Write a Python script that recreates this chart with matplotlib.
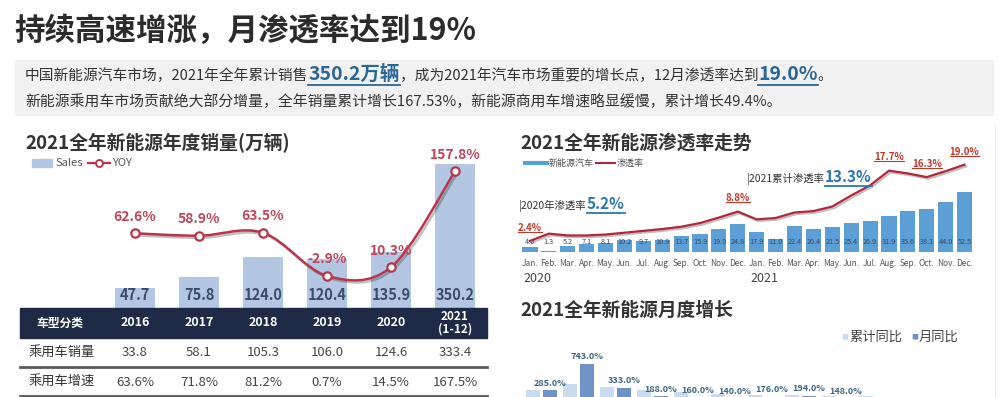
import numpy as np
import matplotlib
matplotlib.use('Agg')
import matplotlib.pyplot as plt
import matplotlib.patheffects as pe
from matplotlib.path import Path
from matplotlib.patches import PathPatch, Rectangle
from matplotlib.lines import Line2D
from matplotlib.transforms import blended_transform_factory

plt.rcParams['font.family'] = ['Noto Sans CJK SC', 'DejaVu Sans']
plt.rcParams['axes.unicode_minus'] = False

# ---- 数据 ----
years = ['2016', '2017', '2018', '2019', '2020', '2021\n(1-12)']
sales = [47.7, 75.8, 124.0, 120.4, 135.9, 350.2]
yoy = [62.6, 58.9, 63.5, -2.9, 10.3, 157.8]
pc_sales = ['33.8', '58.1', '105.3', '106.0', '124.6', '333.4']
pc_growth = ['63.6%', '71.8%', '81.2%', '0.7%', '14.5%', '167.5%']

month_names = ['Jan.', 'Feb.', 'Mar.', 'Apr.', 'May.', 'Jun.',
               'Jul.', 'Aug.', 'Sep.', 'Oct.', 'Nov.', 'Dec.'] * 2
nev_monthly = [4.6, 1.3, 5.2, 7.1, 8.1, 10.2, 9.7, 10.9, 13.7, 15.9, 19.9, 24.8,
               17.9, 11.0, 22.4, 20.4, 21.5, 25.4, 26.9, 31.9, 35.6, 38.1, 44.0, 52.5]
penetration = [2.4, 4.0, 3.6, 3.6, 3.8, 4.2, 4.6, 5.0, 5.5, 6.3, 7.5, 8.8,
               7.1, 7.4, 8.6, 8.9, 9.9, 12.3, 14.5, 17.7, 17.1, 16.3, 17.6, 19.0]
pen_marked = [0, 11, 19, 21, 23]

growth_cum = [285.0, 400.0, 350.0, 300.0, 260.0, 220.0, 210.0, 205.0, 195.0, 185.0, 175.0, 165.0]
growth_mon = [285.0, 743.0, 333.0, 188.0, 160.0, 140.0, 176.0, 194.0, 148.0, 100.0, 92.0, 85.0]
n_growth_labels = 9  # 原图只露出前 9 个标签

W, H = 1000, 397
fig = plt.figure(figsize=(W / 100, H / 100), dpi=100)
fig.patch.set_facecolor('white')
renderer = fig.canvas.get_renderer()


def fx(x):
    return x / W


def fy(y):
    return 1 - y / H


def add_ax(l, t, r, b):
    ax = fig.add_axes([fx(l), fy(b), (r - l) / W, (b - t) / H])
    ax.patch.set_alpha(0)
    return ax


def underline(t, color, lw=1.3, gap=0.5):
    bb = t.get_window_extent(renderer)
    fig.add_artist(Line2D([bb.x0 / W, bb.x1 / W], [(bb.y0 - gap) / H] * 2,
                          color=color, lw=lw, transform=fig.transFigure))


def rich_line(x, y, parts):
    for s, size, color, weight, ul in parts:
        t = fig.text(fx(x), fy(y), s, fontsize=size, color=color,
                     fontweight=weight, va='baseline')
        bb = t.get_window_extent(renderer)
        if ul:
            underline(t, color)
        x = bb.x1


def smooth_path(xs, ys):
    # 平滑曲线（Catmull-Rom 转贝塞尔）
    pts = np.column_stack([xs, ys]).astype(float)
    n = len(pts)
    verts = [pts[0]]
    codes = [Path.MOVETO]
    for i in range(n - 1):
        p0 = pts[max(i - 1, 0)]
        p1 = pts[i]
        p2 = pts[i + 1]
        p3 = pts[min(i + 2, n - 1)]
        verts += [p1 + (p2 - p0) / 6, p2 - (p3 - p1) / 6, p2]
        codes += [Path.CURVE4] * 3
    return Path(verts, codes)


# ---- 标题与摘要 ----
fig.text(fx(14), fy(31), '持续高速增涨，月渗透率达到19%', fontsize=22,
         fontweight='bold', color='#2b2b2b', va='center')
fig.add_artist(Rectangle((fx(15), fy(115)), (993 - 15) / W, 55 / H,
                         transform=fig.transFigure, color='#f1f1f1', zorder=0))
blue_hl = '#2a6796'
rich_line(25, 80, [
    ('中国新能源汽车市场，2021年全年累计销售', 10.6, '#333333', 'normal', False),
    ('350.2万辆', 14, blue_hl, 'bold', True),
    ('，成为2021年汽车市场重要的增长点，12月渗透率达到', 10.6, '#333333', 'normal', False),
    ('19.0%', 14, blue_hl, 'bold', True),
    ('。', 10.6, '#333333', 'normal', False),
])
rich_line(25, 106, [
    ('新能源乘用车市场贡献绝大部分增量，全年销量累计增长167.53%，'
     '新能源商用车增速略显缓慢，累计增长49.4%。', 10.7, '#333333', 'normal', False),
])

# ---- 左：年度销量 ----
fig.text(fx(25), fy(143), '2021全年新能源年度销量(万辆)', fontsize=13.5,
         fontweight='bold', color='#333333', va='center')
bar_c = '#b3c7e3'
red = '#b8364a'
fig.add_artist(Rectangle((fx(32), fy(167)), 20 / W, 8 / H, transform=fig.transFigure, color=bar_c))
fig.text(fx(55), fy(163), 'Sales', fontsize=8, color='#555555', va='center')
fig.add_artist(Line2D([fx(88), fx(110)], [fy(163)] * 2, color=red, lw=1.6,
                      transform=fig.transFigure))
fig.add_artist(Line2D([fx(99)], [fy(163)], marker='o', ms=5, mfc='white', mec=red, mew=1.4,
                      transform=fig.transFigure))
fig.text(fx(112), fy(163), 'YOY', fontsize=8, color='#555555', va='center')

ax1 = add_ax(103, 150, 487, 308)
x1 = np.arange(len(sales))
ax1.bar(x1, sales, width=0.62, color=bar_c)
ax1.set_xlim(-0.5, 5.5)
ax1.set_ylim(0, 385)
ax1.axis('off')
for i, v in enumerate(sales):
    ax1.text(i, 31.7, f'{v:.1f}', ha='center', va='center', fontsize=10.5,
             fontweight='bold', color='#3d4c66')

ax2 = ax1.twinx()
ax2.set_ylim(-52.3, 190.8)
ax2.axis('off')
ax2.add_patch(PathPatch(smooth_path(x1, yoy), fill=False, ec=red, lw=1.8,
                        path_effects=[pe.SimpleLineShadow(offset=(1.5, -1.5), alpha=0.25),
                                      pe.Normal()]))
ax2.plot(x1, yoy, 'o', ms=6, mfc='white', mec=red, mew=1.6, zorder=5)
for i, v in enumerate(yoy):
    ax2.annotate(f'{v:.1f}%', (i, v), xytext=(0, 12), textcoords='offset points',
                 ha='center', va='center', fontsize=10, fontweight='bold', color='#c0455a')

# 表格
tr = blended_transform_factory(ax1.transData, fig.transFigure)
fig.add_artist(Rectangle((fx(20), fy(338)), (487 - 20) / W, 30 / H,
                         transform=fig.transFigure, color='#1f2a46'))
fig.text(fx(60), fy(323), '车型分类', fontsize=8.5, fontweight='bold', color='white',
         ha='center', va='center')
fig.text(fx(62), fy(352), '乘用车销量', fontsize=9.5, color='#333333', ha='center', va='center')
fig.text(fx(62), fy(382), '乘用车增速', fontsize=9.5, color='#333333', ha='center', va='center')
for i in range(len(years)):
    fig.text(i, fy(323), years[i], transform=tr, fontsize=8.5 if i == 5 else 9,
             fontweight='bold', color='white', ha='center', va='center', linespacing=1.0)
    fig.text(i, fy(352), pc_sales[i], transform=tr, fontsize=9.5, color='#444444',
             ha='center', va='center')
    fig.text(i, fy(382), pc_growth[i], transform=tr, fontsize=9.5, color='#444444',
             ha='center', va='center')
for yy in (367, 396):
    fig.add_artist(Line2D([fx(20), fx(487)], [fy(yy)] * 2, color='#5a5a5a', lw=2,
                          transform=fig.transFigure))

# ---- 右上：渗透率走势 ----
fig.text(fx(520), fy(143), '2021全年新能源渗透率走势', fontsize=13.5,
         fontweight='bold', color='#333333', va='center')
nev_c = '#5b9fd6'
pen_c = '#b0283a'
fig.add_artist(Line2D([fx(525), fx(547)], [fy(163)] * 2, color=nev_c, lw=3,
                      transform=fig.transFigure))
fig.text(fx(549), fy(163), '新能源汽车', fontsize=6.5, color='#555555', va='center')
fig.add_artist(Line2D([fx(596), fx(615)], [fy(163)] * 2, color=pen_c, lw=1.5,
                      transform=fig.transFigure))
fig.text(fx(617), fy(163), '渗透率', fontsize=6.5, color='#555555', va='center')

ax3 = add_ax(520.5, 150, 974, 252)
x3 = np.arange(len(nev_monthly))
ax3.bar(x3, nev_monthly, width=0.8, color=nev_c)
ax3.set_xlim(-0.5, 23.5)
ax3.set_ylim(0, 89.5)
for s in ax3.spines.values():
    s.set_visible(False)
ax3.set_yticks([])
ax3.set_xticks(x3)
ax3.set_xticklabels(month_names, fontsize=6, color='#555555')
ax3.tick_params(axis='x', length=0, pad=5)
for i, v in enumerate(nev_monthly):
    ax3.text(i, 8.8, f'{v:.1f}', ha='center', va='center', fontsize=5.2, color='#34485c')

ax4 = ax3.twinx()
ax4.set_ylim(0, 22.2)
ax4.axis('off')
ax4.plot(x3, penetration, color=pen_c, lw=1.6,
         path_effects=[pe.SimpleLineShadow(offset=(1.2, -1.2), alpha=0.25), pe.Normal()])
for i in pen_marked:
    t = ax4.annotate(f'{penetration[i]:.1f}%', (i, penetration[i]), xytext=(0, 9.5),
                     textcoords='offset points', ha='center', va='center',
                     fontsize=7, fontweight='bold', color='#c0392b')
    underline(t, '#c0392b', lw=0.8, gap=-1)

fig.text(fx(523), fy(279), '2020', fontsize=9, color='#444444', va='center')
fig.text(fx(750), fy(279), '2021', fontsize=9, color='#444444', va='center')
rich_line(519, 209, [('|2020年渗透率', 7.5, '#333333', 'normal', False),
                     ('5.2%', 11, '#2e75b6', 'bold', True)])
rich_line(747, 182, [('|2021累计渗透率', 7.5, '#333333', 'normal', False),
                     ('13.3%', 11, '#2e75b6', 'bold', True)])

# ---- 右下：月度增长 ----
fig.text(fx(520), fy(310), '2021全年新能源月度增长', fontsize=13.5,
         fontweight='bold', color='#333333', va='center')
cum_c = '#c9dcef'
mon_c = '#6f93c7'
fig.text(fx(841), fy(337), '■', fontsize=5, color=cum_c, va='center')
fig.text(fx(849), fy(337), '累计同比', fontsize=9.5, color='#444444', va='center')
fig.text(fx(911), fy(337), '■', fontsize=5, color=mon_c, va='center')
fig.text(fx(919), fy(337), '月同比', fontsize=9.5, color='#444444', va='center')

ax5 = add_ax(523, 345, 967, 407)
x5 = np.arange(len(growth_mon))
ax5.bar(x5 - 0.23, growth_cum, width=0.38, color=cum_c)
ax5.bar(x5 + 0.23, growth_mon, width=0.38, color=mon_c)
ax5.set_xlim(-0.5, 11.5)
ax5.set_ylim(0, 1069)
ax5.axis('off')
for i, v in enumerate(growth_mon[:n_growth_labels]):
    ax5.annotate(f'{v:.1f}%', (i + 0.23, v), xytext=(0, 5), textcoords='offset points',
                 ha='center', va='center', fontsize=6.5, fontweight='bold', color='#3a6486')

fig.add_artist(Line2D([fx(995), fx(995)], [fy(125), fy(397)], color='#ececec', lw=1,
                      transform=fig.transFigure))

fig.savefig('out.png', dpi=100)
